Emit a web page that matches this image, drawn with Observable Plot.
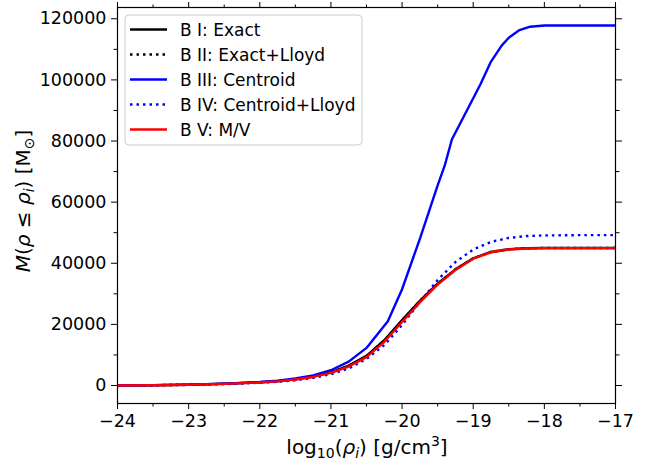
<!DOCTYPE html>
<html>
<head>
<meta charset="utf-8">
<script src="https://cdn.jsdelivr.net/npm/d3@7"></script>
<script src="https://cdn.jsdelivr.net/npm/@observablehq/plot@0.6"></script>
<style>
  html, body { margin: 0; padding: 0; background: white; }
  #chart svg { display: block; }
</style>
</head>
<body>
<div id="chart"></div>
<script>
// ---- data ----
const xs = [-24, -23.5, -23, -22.5, -22, -21.75, -21.5, -21.25, -21, -20.75, -20.5, -20.25, -20, -19.75, -19.5, -19.25, -19, -18.75, -18.5, -18.25, -18, -17.5, -17];
const bExact =        [0, 100, 250, 550, 1050, 1400, 2000, 2900, 4300, 6500, 9700, 14800, 21400, 27700, 33300, 38000, 41600, 43700, 44600, 44900, 45000, 45000, 45000];
const bExactLloyd =   [0, 100, 250, 540, 1030, 1380, 1980, 2880, 4250, 6400, 9600, 14700, 21300, 27700, 33300, 38000, 41600, 43700, 44600, 44900, 45000, 45000, 45000];
const bCentroidLloyd =[0, 80, 200, 450, 900, 1200, 1700, 2500, 3700, 5600, 8700, 13200, 19800, 27300, 34500, 40400, 44500, 47000, 48300, 48900, 49100, 49200, 49200];
const bMV =           [0, 90, 230, 520, 1000, 1350, 1950, 2800, 4150, 6200, 9300, 14300, 20800, 27200, 33000, 37800, 41500, 43600, 44500, 44850, 44950, 44950, 44950];
const xsCentroid = [-24, -23.5, -23, -22.5, -22, -21.75, -21.5, -21.25, -21, -20.75, -20.5, -20.2, -20, -19.75, -19.5, -19.4, -19.3, -19.1, -18.9, -18.75, -18.6, -18.5, -18.35, -18.2, -18, -17.5, -17];
const bCentroid =  [0, 120, 300, 600, 1150, 1600, 2300, 3300, 5000, 7800, 12300, 21000, 31500, 48000, 65500, 72000, 80500, 89500, 98500, 106000, 111200, 113800, 116300, 117400, 117800, 117800, 117800];

const legendLabels = ["B I: Exact", "B II: Exact+Lloyd", "B III: Centroid", "B IV: Centroid+Lloyd", "B V: M/V"];
const seriesColors = ["black", "black", "#0000ff", "#0000ff", "#ff0000"];
const seriesDashed = [false, true, false, true, false];

const xMajor = [-24, -23, -22, -21, -20, -19, -18, -17];
const xMinor = [-23.5, -22.5, -21.5, -20.5, -19.5, -18.5, -17.5];
const yMajor = [0, 20000, 40000, 60000, 80000, 100000, 120000];
const yMinor = [10000, 30000, 50000, 70000, 90000, 110000];

// ---- build series ----
const seriesY = [bExact, bExactLloyd, bCentroid, bCentroidLloyd, bMV];
const seriesX = [xs, xs, xsCentroid, xs, xs];
const series = seriesY.map((ys, i) => seriesX[i].map((x, j) => ({x, y: ys[j]})));

const dash = "2.5,4";
const lw = 2.4;
const fmtX = d3.format("d");
const fmtY = d3.format("d");
const FONT = "DejaVu Sans";
const TICK_FS = 17.5;

const lineMarks = series.map((data, i) => Plot.line(data, {
  x: "x", y: "y", stroke: seriesColors[i], strokeWidth: lw,
  strokeDasharray: seriesDashed[i] ? dash : null,
  strokeLinecap: "butt", strokeLinejoin: "round"
}));

const chart = Plot.plot({
  width: 656, height: 461,
  marginLeft: 117, marginRight: 41, marginTop: 7, marginBottom: 58,
  style: {fontFamily: FONT, fontSize: TICK_FS + "px", background: "white", color: "black"},
  x: {domain: [-24, -17]},
  y: {domain: [-5890, 123690]},
  marks: [
    ...lineMarks,
    Plot.frame({stroke: "black", strokeWidth: 1.2}),
    Plot.axisX(xMajor, {anchor: "bottom", tickSize: 6, tickPadding: 5, tickFormat: fmtX, label: null, fontSize: TICK_FS}),
    Plot.axisX(xMinor, {anchor: "bottom", tickSize: 3.5, fill: "none", tickFormat: () => "", label: null}),
    Plot.axisX(xMajor, {anchor: "top", tickSize: 6, fill: "none", tickFormat: () => "", label: null}),
    Plot.axisX(xMinor, {anchor: "top", tickSize: 3.5, fill: "none", tickFormat: () => "", label: null}),
    Plot.axisY(yMajor, {anchor: "left", tickSize: 6, tickPadding: 5, tickFormat: fmtY, label: null, fontSize: TICK_FS}),
    Plot.axisY(yMinor, {anchor: "left", tickSize: 3.5, fill: "none", tickFormat: () => "", label: null}),
    Plot.axisY(yMajor, {anchor: "right", tickSize: 6, fill: "none", tickFormat: () => "", label: null}),
    Plot.axisY(yMinor, {anchor: "right", tickSize: 3.5, fill: "none", tickFormat: () => "", label: null})
  ]
});

document.getElementById("chart").appendChild(chart);
const svg = d3.select(chart);

// x label
const xl = svg.append("text")
  .attr("x", 367).attr("y", 454).attr("text-anchor", "middle")
  .attr("font-family", FONT).attr("font-size", 20).attr("fill", "black");
xl.append("tspan").text("log");
xl.append("tspan").attr("dy", 4).attr("font-size", 14).text("10");
xl.append("tspan").attr("dy", -4).text("(");
xl.append("tspan").attr("font-style", "italic").text("ρ");
xl.append("tspan").attr("dy", 4).attr("font-size", 14).attr("font-style", "italic").text("i");
xl.append("tspan").attr("dy", -4).text(") [g/cm");
xl.append("tspan").attr("dy", -8).attr("font-size", 14).text("3");
xl.append("tspan").attr("dy", 8).text("]");

// y label
const yl = svg.append("text")
  .attr("transform", "translate(30,201) rotate(-90)")
  .attr("text-anchor", "middle")
  .attr("font-family", FONT).attr("font-size", 20).attr("fill", "black");
yl.append("tspan").attr("font-style", "italic").text("M");
yl.append("tspan").text("(");
yl.append("tspan").attr("font-style", "italic").text("ρ");
yl.append("tspan").text(" ≤ ");
yl.append("tspan").attr("font-style", "italic").text("ρ");
yl.append("tspan").attr("dy", 4).attr("font-size", 14).attr("font-style", "italic").text("i");
yl.append("tspan").attr("dy", -4).text(") [M");
yl.append("tspan").attr("dy", 4).attr("font-size", 14).text("⊙");
yl.append("tspan").attr("dy", -4).text("]");

// legend
const lg = svg.append("g").attr("text-anchor", "start");
lg.append("rect")
  .attr("x", 125).attr("y", 15).attr("width", 237).attr("height", 130)
  .attr("rx", 4).attr("fill", "white").attr("fill-opacity", 0.8)
  .attr("stroke", "#cccccc").attr("stroke-width", 1);
legendLabels.forEach((label, i) => {
  const yy = 29.5 + i * 25;
  lg.append("line")
    .attr("x1", 130).attr("x2", 167).attr("y1", yy).attr("y2", yy)
    .attr("stroke", seriesColors[i]).attr("stroke-width", lw)
    .attr("stroke-dasharray", seriesDashed[i] ? dash : null);
  lg.append("text")
    .attr("x", 180).attr("y", yy + 6)
    .attr("text-anchor", "start")
    .attr("font-family", FONT).attr("font-size", 17).attr("fill", "black")
    .text(label);
});
</script>
</body>
</html>
